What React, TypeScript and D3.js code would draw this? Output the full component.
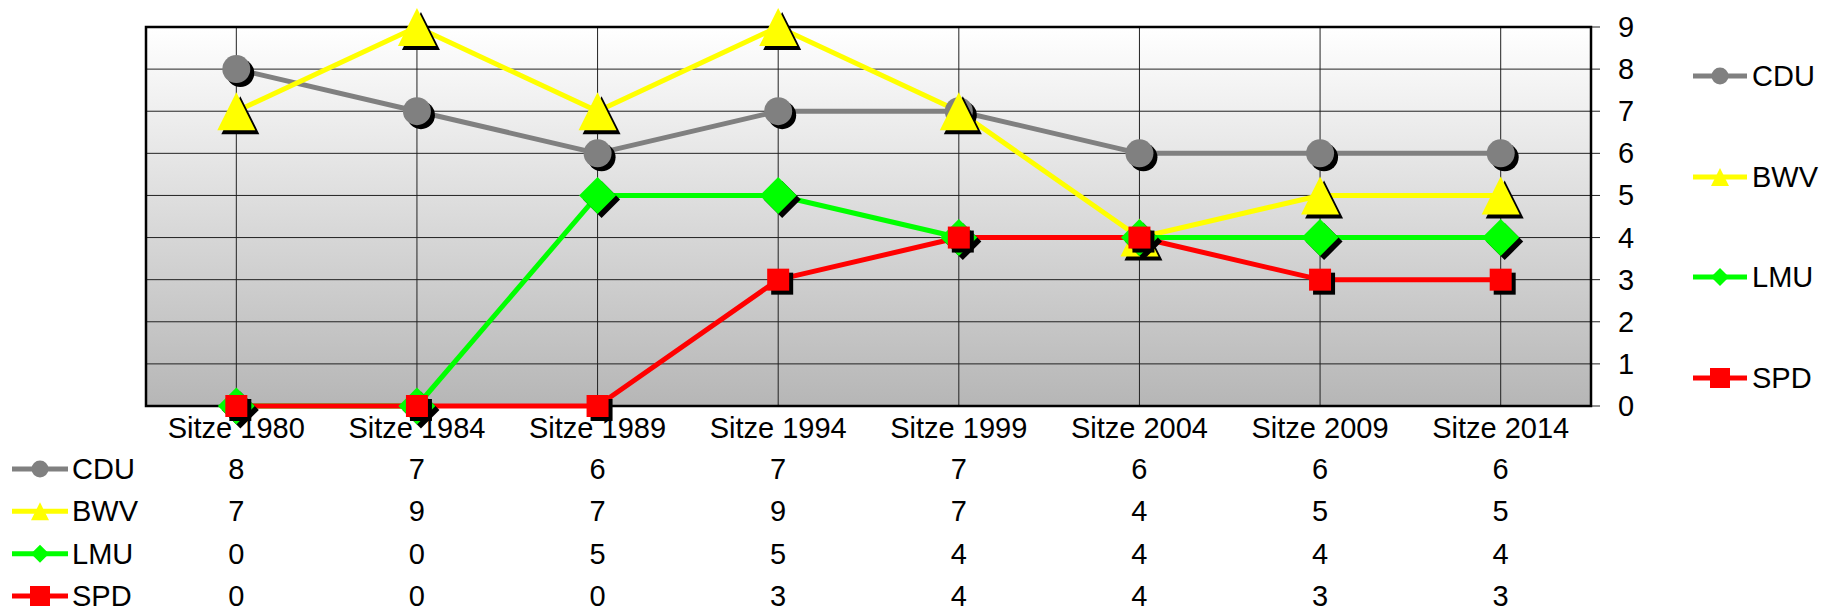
import * as d3 from 'd3';
import React, { useEffect, useRef } from 'react';

const categories = [
  'Sitze 1980',
  'Sitze 1984',
  'Sitze 1989',
  'Sitze 1994',
  'Sitze 1999',
  'Sitze 2004',
  'Sitze 2009',
  'Sitze 2014',
];
const cdu = [8, 7, 6, 7, 7, 6, 6, 6];
const bwv = [7, 9, 7, 9, 7, 4, 5, 5];
const lmu = [0, 0, 5, 5, 4, 4, 4, 4];
const spd = [0, 0, 0, 3, 4, 4, 3, 3];
const yTicks = [0, 1, 2, 3, 4, 5, 6, 7, 8, 9];

type Sym = 'circle' | 'triangle' | 'diamond' | 'square';
interface Series {
  name: string;
  values: number[];
  color: string;
  symbol: Sym;
}

const series: Series[] = [
  { name: 'CDU', values: cdu, color: '#808080', symbol: 'circle' },
  { name: 'BWV', values: bwv, color: '#ffff00', symbol: 'triangle' },
  { name: 'LMU', values: lmu, color: '#00ff00', symbol: 'diamond' },
  { name: 'SPD', values: spd, color: '#ff0000', symbol: 'square' },
];

// marker outline centred on 0,0; s = overall size in px
const symbolPath = (sym: Sym, s: number) => {
  const h = s / 2;
  if (sym === 'circle') {
    const p = d3.path();
    p.arc(0, 0, h, 0, Math.PI * 2);
    p.closePath();
    return p.toString();
  }
  if (sym === 'triangle') return `M0,${-h}L${h},${h}L${-h},${h}Z`;
  if (sym === 'diamond') return `M0,${-h}L${h},0L0,${h}L${-h},0Z`;
  return `M${-h},${-h}H${h}V${h}H${-h}Z`;
};

const markerSize: Record<Sym, number> = { circle: 28, triangle: 38, diamond: 37, square: 22 };
const legendSize: Record<Sym, number> = { circle: 17, triangle: 18, diamond: 18, square: 20 };

const App: React.FC = () => {
  const svgRef = useRef<SVGSVGElement | null>(null);

  useEffect(() => {
    const width = 1823;
    const height = 611;
    const plot = { left: 146, right: 1591, top: 27, bottom: 406 };
    const font = '"Liberation Sans", Arial, sans-serif';
    const fs = 29;

    const svg = d3.select(svgRef.current);
    svg.selectAll('*').remove();
    svg.attr('width', width).attr('height', height).attr('viewBox', `0 0 ${width} ${height}`);

    const x = d3.scaleBand<string>().domain(categories).range([plot.left, plot.right]).padding(0);
    const xc = (c: string) => x(c)! + x.bandwidth() / 2;
    const y = d3.scaleLinear().domain([0, 9]).range([plot.bottom, plot.top]);

    const grad = svg
      .append('defs')
      .append('linearGradient')
      .attr('id', 'bg')
      .attr('x1', 0)
      .attr('y1', 0)
      .attr('x2', 0)
      .attr('y2', 1);
    grad.append('stop').attr('offset', '0%').attr('stop-color', '#ffffff');
    grad.append('stop').attr('offset', '100%').attr('stop-color', '#b6b6b6');

    svg
      .append('rect')
      .attr('x', plot.left)
      .attr('y', plot.top)
      .attr('width', plot.right - plot.left)
      .attr('height', plot.bottom - plot.top)
      .attr('fill', 'url(#bg)');

    // horizontal grid + right ticks
    svg
      .append('g')
      .selectAll('line')
      .data(yTicks)
      .join('line')
      .attr('x1', plot.left)
      .attr('x2', plot.right + 9)
      .attr('y1', (d) => y(d))
      .attr('y2', (d) => y(d))
      .attr('stroke', '#222')
      .attr('stroke-width', 1);

    // vertical lines at categories
    svg
      .append('g')
      .selectAll('line')
      .data(categories)
      .join('line')
      .attr('x1', xc)
      .attr('x2', xc)
      .attr('y1', plot.top)
      .attr('y2', plot.bottom)
      .attr('stroke', '#222')
      .attr('stroke-width', 1);

    svg
      .append('rect')
      .attr('x', plot.left)
      .attr('y', plot.top)
      .attr('width', plot.right - plot.left)
      .attr('height', plot.bottom - plot.top)
      .attr('fill', 'none')
      .attr('stroke', '#000')
      .attr('stroke-width', 2.5);

    // right axis labels
    svg
      .append('g')
      .selectAll('text')
      .data(yTicks)
      .join('text')
      .attr('x', 1626)
      .attr('y', (d) => y(d) + 10)
      .attr('text-anchor', 'middle')
      .style('font-family', font)
      .style('font-size', `${fs}px`)
      .text((d) => d);

    // category labels
    svg
      .append('g')
      .selectAll('text')
      .data(categories)
      .join('text')
      .attr('x', xc)
      .attr('y', 438)
      .attr('text-anchor', 'middle')
      .style('font-family', font)
      .style('font-size', `${fs}px`)
      .text((d) => d);

    const line = d3
      .line<number>()
      .x((_, i) => xc(categories[i]))
      .y((d) => y(d));

    series.forEach((s) => {
      svg
        .append('path')
        .datum(s.values)
        .attr('fill', 'none')
        .attr('stroke', s.color)
        .attr('stroke-width', 5)
        .attr('stroke-linejoin', 'round')
        .attr('d', line);
    });

    series.forEach((s) => {
      const g = svg.append('g');
      s.values.forEach((v, i) => {
        const cx = xc(categories[i]);
        const cy = y(v);
        g.append('path')
          .attr('d', symbolPath(s.symbol, markerSize[s.symbol]))
          .attr('transform', `translate(${cx + 4},${cy + 4})`)
          .attr('fill', '#000');
        g.append('path')
          .attr('d', symbolPath(s.symbol, markerSize[s.symbol]))
          .attr('transform', `translate(${cx},${cy})`)
          .attr('fill', s.color);
      });
    });

    // legend helper
    const legendItem = (gx: number, gy: number, s: Series, lineW: number, gap: number) => {
      const g = svg.append('g').attr('transform', `translate(${gx},${gy})`);
      g.append('line')
        .attr('x1', 0)
        .attr('x2', lineW)
        .attr('y1', 0)
        .attr('y2', 0)
        .attr('stroke', s.color)
        .attr('stroke-width', 5);
      g.append('path')
        .attr('d', symbolPath(s.symbol, legendSize[s.symbol]))
        .attr('transform', `translate(${lineW / 2},0)`)
        .attr('fill', s.color);
      g.append('text')
        .attr('x', lineW + gap)
        .attr('y', 10)
        .style('font-family', font)
        .style('font-size', `${fs}px`)
        .text(s.name);
    };

    // right legend
    const legendRows = [76, 177, 277, 378];
    series.forEach((s, i) => legendItem(1693, legendRows[i], s, 54, 5));

    // data table
    const rowY = d3.scaleLinear().domain([0, 3]).range([469, 596]);
    series.forEach((s, i) => {
      legendItem(12, rowY(i), s, 56, 4);
      svg
        .append('g')
        .selectAll('text')
        .data(s.values)
        .join('text')
        .attr('x', (_, j) => xc(categories[j]))
        .attr('y', rowY(i) + 10)
        .attr('text-anchor', 'middle')
        .style('font-family', font)
        .style('font-size', `${fs}px`)
        .text((d) => d);
    });
  }, []);

  return (
    <div style={{ position: 'absolute', left: 0, top: 0 }}>
      <svg ref={svgRef} style={{ display: 'block' }}></svg>
    </div>
  );
};

export default App;
